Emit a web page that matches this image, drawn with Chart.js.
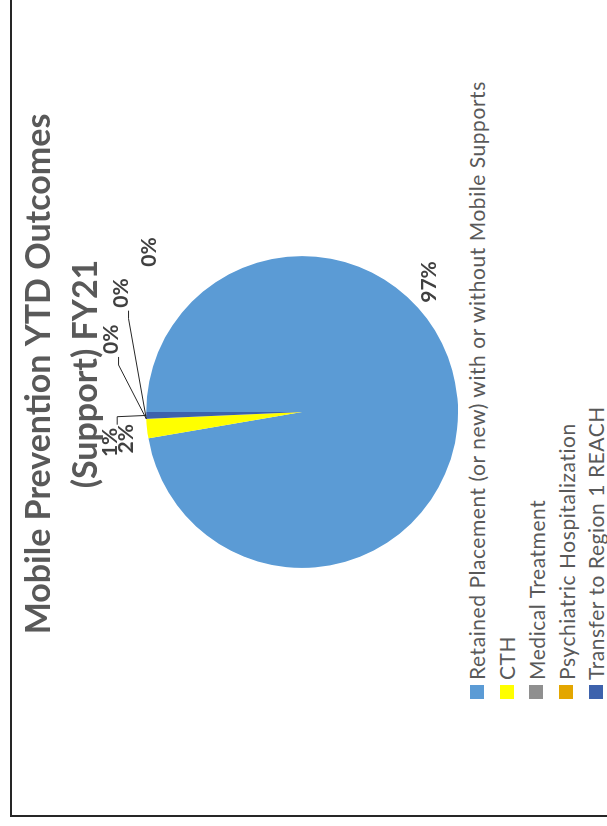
<!DOCTYPE html>
<html>
<head>
<meta charset="utf-8">
<script src="https://cdn.jsdelivr.net/npm/chart.js@4/dist/chart.umd.min.js"></script>
<style>
  html, body { margin: 0; padding: 0; background: #fff; overflow: hidden; width: 607px; height: 826px; }
  /* the whole sheet is turned a quarter turn, as in the scan */
  #frame {
    position: absolute; left: 10px; top: 817px;
    width: 882px; height: 640px;
    border: 2px solid #262626;
    background: #fff;
    transform-origin: 0 0;
    transform: rotate(-90deg);
  }
  #pie { position: absolute; left: 0; top: 0; }
  #legend {
    position: absolute; left: 116px; top: 450px;
    font-family: Lato, sans-serif; font-size: 21px; letter-spacing: 0.55px; color: #595959;
  }
  .row { display: flex; align-items: center; height: 29.75px; white-space: nowrap; }
  .box { width: 14px; height: 14px; margin-right: 5px; flex: none; }
</style>
</head>
<body>
<div id="frame">
  <canvas id="pie" width="882" height="446"></canvas>
  <div id="legend"></div>
</div>
<script>
const titleLines = ["Mobile Prevention YTD Outcomes", "(Support) FY21"];
const categories = [
  "Retained Placement (or new) with or without Mobile Supports",
  "CTH",
  "Medical Treatment",
  "Psychiatric Hospitalization",
  "Transfer to Region 1 REACH",
  "Other"
];
// share of outcomes, percent
const shares = [97.3, 2.0, 0, 0, 0.7, 0];
const sliceColors = ["#5B9BD5", "#FFFF00", "#8F8F8F", "#E3A600", "#3D62AC", "#70AD47"];

// where each percentage sits: angle (deg) and distance in radii, plus leader line
const labelSpots = [
  { angle: 44.4, dist: 1.167, leader: false },
  { angle: -98.7, dist: 1.138, leader: false },
  { angle: -69.1, dist: 1.308, leader: true },
  { angle: -56.6, dist: 1.387, leader: true },
  { angle: -99.0, dist: 1.246, leader: true },
  { angle: -43.6, dist: 1.417, leader: false }
];

const pieLabels = {
  id: "pieLabels",
  afterLayout(chart, args, opts) {
    // plot area sits left of the title centre
    chart.chartArea.left += opts.shift;
    chart.chartArea.right += opts.shift;
  },
  afterDatasetsDraw(chart) {
    const ctx = chart.ctx;
    const data = chart.data.datasets[0].data;
    const total = data.reduce((a, b) => a + b, 0);
    ctx.save();
    ctx.font = "bold 21px Lato";
    ctx.fillStyle = "#404040";
    ctx.strokeStyle = "#262626";
    ctx.lineWidth = 1;
    ctx.textAlign = "center";
    ctx.textBaseline = "middle";
    chart.getDatasetMeta(0).data.forEach((arc, i) => {
      const p = arc.getProps(["x", "y", "startAngle", "endAngle", "outerRadius"], true);
      const spot = labelSpots[i];
      const a = spot.angle * Math.PI / 180;
      const lx = p.x + Math.cos(a) * p.outerRadius * spot.dist;
      const ly = p.y + Math.sin(a) * p.outerRadius * spot.dist;
      const text = Math.round(data[i] / total * 100) + "%";
      if (spot.leader) {
        const mid = (p.startAngle + p.endAngle) / 2;
        const ex = p.x + Math.cos(mid) * p.outerRadius;
        const ey = p.y + Math.sin(mid) * p.outerRadius;
        const hw = ctx.measureText(text).width / 2;
        const side = ex < lx ? -1 : 1;
        const cx = lx + side * (hw + 3);
        const cy = ly + 7;
        ctx.beginPath();
        ctx.moveTo(ex, ey);
        ctx.lineTo(cx + side * 8, cy);
        ctx.lineTo(cx, cy);
        ctx.stroke();
      }
      ctx.fillText(text, lx, ly);
    });
    ctx.restore();
  }
};

const chart = new Chart(document.getElementById("pie"), {
  type: "pie",
  data: {
    labels: categories,
    datasets: [{
      data: shares,
      backgroundColor: sliceColors,
      borderWidth: 0
    }]
  },
  options: {
    responsive: false,
    animation: false,
    events: [],
    layout: { padding: 0 },
    plugins: {
      legend: { display: false },
      tooltip: { enabled: false },
      title: {
        display: true,
        text: titleLines,
        color: "#595959",
        font: { family: "Lato", size: 34, weight: "bold", lineHeight: 1.37 },
        padding: { top: 4, bottom: 37 }
      },
      pieLabels: { shift: -38 }
    }
  },
  plugins: [pieLabels]
});

// legend as a list under the pie
const legendEl = document.getElementById("legend");
chart.options.plugins.legend.labels.generateLabels(chart).forEach(item => {
  const row = document.createElement("div");
  row.className = "row";
  const box = document.createElement("span");
  box.className = "box";
  box.style.background = item.fillStyle;
  const txt = document.createElement("span");
  txt.textContent = item.text;
  row.appendChild(box);
  row.appendChild(txt);
  legendEl.appendChild(row);
});
</script>
</body>
</html>
